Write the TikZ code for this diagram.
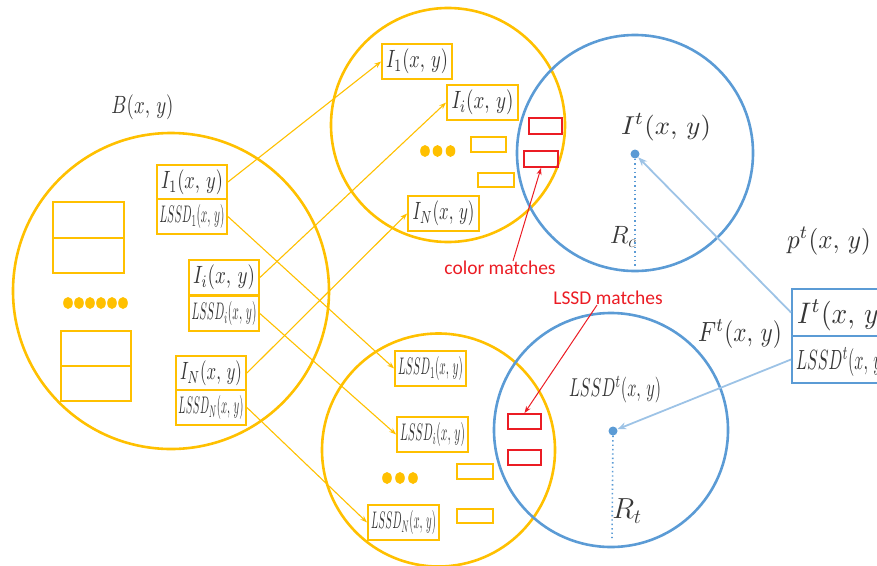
\RequirePackage{fix-cm}
\documentclass[tikz,border=0pt]{standalone}
\usepackage{fontspec}
\usepackage{graphicx}
\newfontfamily\redsans{Carlito}
\usetikzlibrary{arrows.meta}
\definecolor{gold}{RGB}{255,192,0}
\definecolor{bblue}{RGB}{91,155,213}
\definecolor{lblue}{RGB}{157,195,230}
\definecolor{rred}{RGB}{235,28,36}
\definecolor{ink}{RGB}{55,55,55}
\newcommand\sz[3]{\resizebox*{#1pt}{#2pt}{$#3$}}
\begin{document}
\begin{tikzpicture}[x=1pt,y=-1pt,
  ring/.style={circle,draw,line width=2.6pt,minimum size=#1,inner sep=0pt},
  ybox/.style={draw=gold,line width=1.8pt,inner sep=0pt,text=ink},
  rbox/.style={draw=rred,line width=1.8pt,inner sep=0pt,minimum width=33,minimum height=15},
  lab/.style={inner sep=0pt,text=ink},
  yarr/.style={gold,line width=1.1pt,-{Stealth[length=7pt,width=5pt]}},
  rarr/.style={rred,line width=1pt,-{Stealth[length=7pt,width=5pt]}},
  barr/.style={lblue,line width=1.8pt,-{Stealth[length=9pt,width=7pt]}},
  dotline/.style={bblue,line width=1.6pt,dash pattern=on 1.4pt off 3pt},
  cdot/.style={circle,fill=bblue,inner sep=0pt,minimum size=9pt},
  rtext/.style={inner sep=0pt,text=rred,font=\redsans\fontsize{19.5}{19.5}\selectfont}]
\useasboundingbox (0,0) rectangle (877,565);
\clip (0,0) rectangle (877,565);

% circles
\node[ring=316,draw=gold] (cL) at (171,291) {};
\node[ring=234,draw=gold] (cT) at (448,125) {};
\node[ring=233,draw=gold] (cB) at (438.5,450) {};
\node[ring=236,draw=bblue] (bT) at (635,153) {};
\node[ring=234,draw=bblue] (bB) at (611,430) {};

% left circle contents
\node[lab] (Blab) at (142.5,107) {\sz{62}{25}{B(x,\,y)}};
\node[ybox,minimum width=70,minimum height=34.5] (I1L) at (192,182) {\sz{62}{25}{I_1(x,\,y)}};
\node[ybox,minimum width=70,minimum height=34.5] (L1L) at (192,216.5) {\sz{65}{24}{LSSD_1(x,\,y)}};
\node[ybox,minimum width=70,minimum height=35.5] (IiL) at (224,277.5) {\sz{62}{25}{I_i(x,\,y)}};
\node[ybox,minimum width=70,minimum height=35.5] (LiL) at (224,313.5) {\sz{65}{24}{LSSD_i(x,\,y)}};
\node[ybox,minimum width=70,minimum height=34.5] (INL) at (211,373) {\sz{62}{25}{I_N(x,\,y)}};
\node[ybox,minimum width=70,minimum height=34.5] (LNL) at (211,407.5) {\sz{65}{24}{LSSD_N(x,\,y)}};
\node[ybox,minimum width=71,minimum height=35.5] (e1) at (88.5,220) {};
\node[ybox,minimum width=71,minimum height=35.5] (e2) at (88.5,255.5) {};
\node[ybox,minimum width=70,minimum height=35] (e3) at (96,348.5) {};
\node[ybox,minimum width=70,minimum height=35] (e4) at (96,383.5) {};
\foreach \xx in {68,79,90,101,112,123} \fill[gold] (\xx,303) ellipse (4.8 and 6);

% top yellow circle contents
\node[ybox,minimum width=70,minimum height=35] (I1T) at (417,61.5) {\sz{62}{25}{I_1(x,\,y)}};
\node[ybox,minimum width=71,minimum height=35] (IiT) at (482.5,102.5) {\sz{62}{25}{I_i(x,\,y)}};
\node[ybox,minimum width=71,minimum height=35] (INT) at (443.5,213.5) {\sz{62}{25}{I_N(x,\,y)}};
\node[ybox,minimum width=35,minimum height=15] (s1) at (488.5,144.5) {};
\node[ybox,minimum width=36,minimum height=14] (s2) at (496,180) {};
\foreach \xx in {425,437.5,450.5} \fill[gold] (\xx,151) ellipse (4.8 and 6);

% bottom yellow circle contents
\node[ybox,minimum width=71,minimum height=35] (L1B) at (430.5,368.5) {\sz{65}{24}{LSSD_1(x,\,y)}};
\node[ybox,minimum width=71,minimum height=35] (LiB) at (432.5,434.5) {\sz{65}{24}{LSSD_i(x,\,y)}};
\node[ybox,minimum width=71,minimum height=35] (LNB) at (403.5,522.5) {\sz{65}{24}{LSSD_N(x,\,y)}};
\node[ybox,minimum width=36,minimum height=15] (s3) at (475,471.5) {};
\node[ybox,minimum width=36,minimum height=14] (s4) at (475,516) {};
\foreach \xx in {387,400,413} \fill[gold] (\xx,478) ellipse (4.8 and 6);

% red match boxes
\node[rbox,minimum height=16] (r1) at (545.5,126) {};
\node[rbox,minimum width=34,minimum height=16] (r2) at (541,159) {};
\node[rbox] (r3) at (524.5,421.5) {};
\node[rbox] (r4) at (524.5,457.5) {};

% blue circle contents
\node[cdot] (d1) at (635,154) {};
\node[cdot] (d2) at (613,431) {};
\coordinate (f1) at (635,266);
\coordinate (f2) at (612,538);
\draw[dotline] (d1) -- (f1);
\draw[dotline] (d2) -- (f2);
\node[lab] (Itlab) at (666,127) {\sz{90}{27}{I^t(x,\,y)}};
\node[lab] (Ltlab) at (615,389.5) {\sz{92}{27}{LSSD^t(x,\,y)}};
\node[lab] (Rc) at (623,237) {\fontsize{25}{25}\selectfont$R_c$};
\node[lab] (Rt) at (627,511) {\fontsize{29}{29}\selectfont$R_t$};
\node[lab] (Ftlab) at (740,334) {\sz{84}{29}{F^t(x,\,y)}};
\node[lab] (ptlab) at (829,241) {\sz{84}{28}{p^t(x,\,y)}};

% right box
\node[draw=bblue,line width=2pt,minimum width=110,minimum height=47,inner sep=0pt] (RB1) at (847,312.5) {};
\node[draw=bblue,line width=2pt,minimum width=110,minimum height=47,inner sep=0pt] (RB2) at (847,359.5) {};
\node[lab,anchor=west] (RBt1) at (797,315) {\sz{92}{31}{I^t(x,\,y)}};
\node[lab,anchor=west] (RBt2) at (796,362) {\sz{92}{29}{LSSD^t(x,\,y)}};

% red labels
\node[rtext] (cm) at (500,268) {color matches};
\node[rtext] (lm) at (608,298) {LSSD matches};

% connectors
\draw[yarr] (I1L.east) -- (I1T.west);
\draw[yarr] (IiL.east) -- (IiT.west);
\draw[yarr] (INL.east) -- (INT.west);
\draw[yarr] (L1L.east) -- (L1B.west);
\draw[yarr] (LiL.east) -- (LiB.west);
\draw[yarr] (LNL.east) -- (LNB.west);
\draw[rarr] ([xshift=13pt]cm.north) -- (r2.south);
\draw[rarr] ([xshift=-11pt]lm.south) -- (r3.north);
\draw[barr] (RB1.west) -- (d1);
\draw[barr] (RB2.west) -- (d2);
\end{tikzpicture}
\end{document}
